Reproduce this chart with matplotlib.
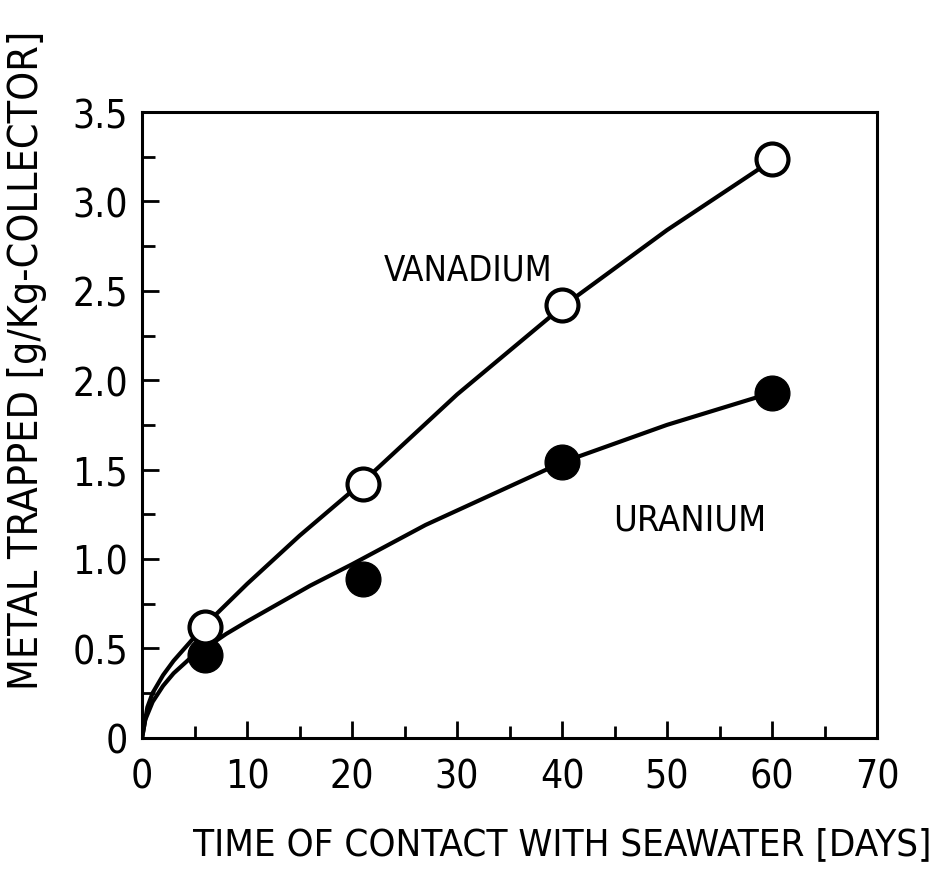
import numpy as np
import matplotlib
matplotlib.use('Agg')
import matplotlib.pyplot as plt
from matplotlib.ticker import MultipleLocator

plt.rcParams['font.family'] = ['DejaVu Sans']
plt.rcParams['font.stretch'] = 'condensed'

# measured points
days_v = [6, 21, 40, 60]
vanadium = [0.62, 1.42, 2.42, 3.24]
days_u = [6, 21, 40, 60]
uranium = [0.46, 0.89, 1.54, 1.93]

# smooth curves
curve_v_x = [0, 0.5, 1, 2, 3, 4.5, 6, 10, 15, 21, 30, 40, 50, 60]
curve_v_y = [0, 0.17, 0.25, 0.35, 0.43, 0.53, 0.63, 0.86, 1.13, 1.43, 1.92, 2.41, 2.84, 3.23]
curve_u_x = [0, 0.3, 1, 2, 3, 4.5, 6, 8, 10, 16, 20, 27, 40, 50, 60]
curve_u_y = [0, 0.10, 0.20, 0.29, 0.36, 0.44, 0.50, 0.58, 0.65, 0.85, 0.97, 1.19, 1.54, 1.75, 1.93]

fig = plt.figure(figsize=(9.35, 8.7), dpi=100)
ax = fig.add_axes([0.152, 0.151, 0.786, 0.719])

ax.plot(curve_v_x, curve_v_y, color='black', lw=3, solid_capstyle='round', solid_joinstyle='round')
ax.plot(curve_u_x, curve_u_y, color='black', lw=3, solid_capstyle='round', solid_joinstyle='round')
ax.plot(days_u, uranium, 'o', ms=25, color='black', zorder=3)
ax.plot(days_v, vanadium, 'o', ms=23, mfc='white', mec='black', mew=3, zorder=4)

ax.text(31.0, 2.62, 'VANADIUM', fontsize=25, ha='center', va='center')
ax.text(52.2, 1.22, 'URANIUM', fontsize=26, ha='center', va='center')

ax.set_xlim(0, 70)
ax.set_ylim(0, 3.5)
ax.xaxis.set_major_locator(MultipleLocator(10))
ax.xaxis.set_minor_locator(MultipleLocator(5))
ax.yaxis.set_minor_locator(MultipleLocator(0.25))
ax.set_yticks([0, 0.5, 1, 1.5, 2, 2.5, 3, 3.5])
ax.set_yticklabels(['0', '0.5', '1.0', '1.5', '2.0', '2.5', '3.0', '3.5'])
ax.tick_params(which='both', direction='in', top=False, right=False, width=2, labelsize=28)
ax.tick_params(which='major', length=12)
ax.tick_params(axis='x', which='major', pad=14)
ax.tick_params(axis='y', which='major', pad=10)
ax.tick_params(which='minor', length=9)
for s in ax.spines.values():
    s.set_linewidth(2.2)

ax.set_xlabel('TIME OF CONTACT WITH SEAWATER [DAYS]', fontsize=27.5)
ax.xaxis.set_label_coords(0.571, -0.142)
ax.set_ylabel('METAL TRAPPED [g/Kg-COLLECTOR]', fontsize=29.5)
ax.yaxis.set_label_coords(-0.13, 0.605)

fig.savefig('out.png', dpi=100)
